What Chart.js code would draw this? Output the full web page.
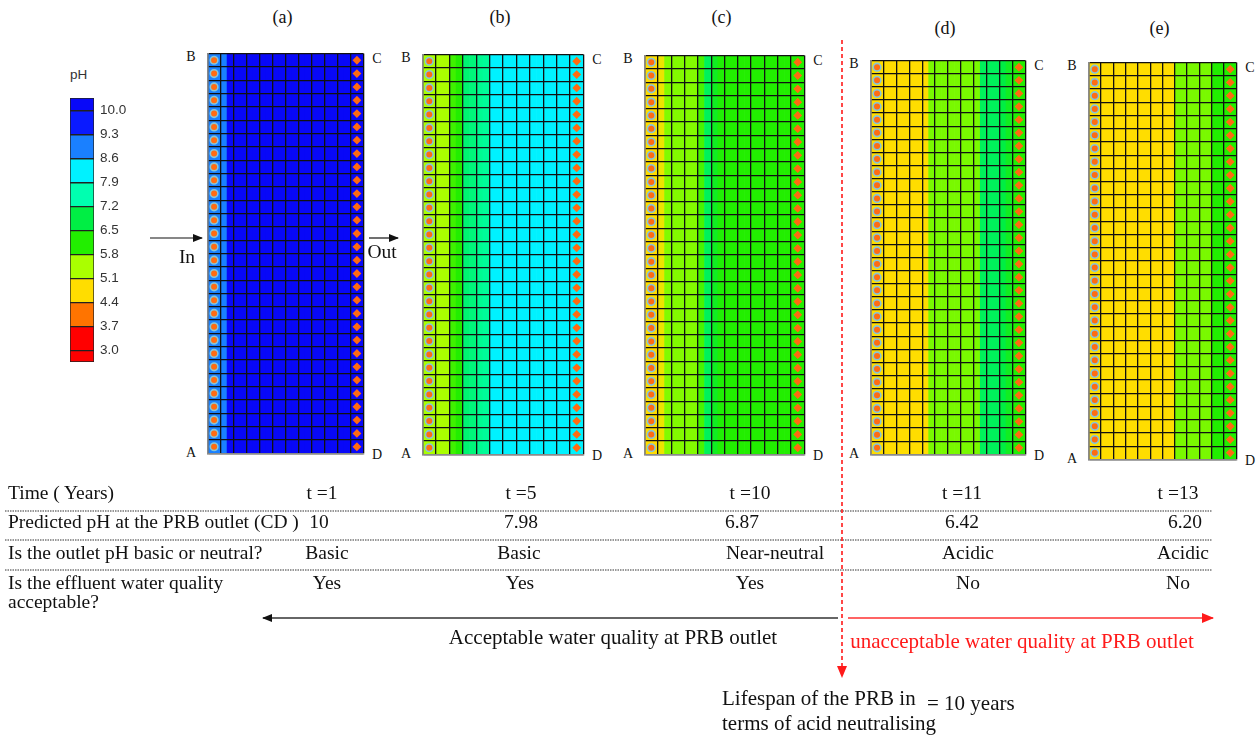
<!DOCTYPE html>
<html>
<head>
<meta charset="utf-8">
<script src="https://cdn.jsdelivr.net/npm/chart.js@4.4.1/dist/chart.umd.min.js"></script>
<style>
  html, body { margin: 0; padding: 0; background: #fff; }
  #stage { position: relative; width: 1258px; height: 736px; overflow: hidden; font-family: "Liberation Serif", "Times New Roman", serif; color: #111; }
  #stage canvas { position: absolute; }
  .t { position: absolute; white-space: nowrap; font-size: 19.5px; line-height: 1; }
  .c { transform: translate(-50%, -50%); }
  .l { transform: translate(0, -50%); }
  .corner { position: absolute; font-size: 14px; line-height: 1; transform: translate(-50%, -50%); }
  svg { position: absolute; left: 0; top: 0; }
</style>
</head>
<body>
<div id="stage"></div>
<script>
// ---- data ----
const rowCount = 30;
const colCount = 12;
const panelLabels = ['(a)', '(b)', '(c)', '(d)', '(e)'];

// pH read per half column (24 = 12 columns x 2), from inlet AB (left) to outlet CD (right)
const phA = [8.95, 8.95, 8.95, 10.2, 10.2, 10.2, 10.2, 10.2, 10.2, 10.2, 10.2, 10.2,
             10.2, 10.2, 10.2, 10.2, 10.2, 10.2, 10.2, 10.2, 10.2, 10.2, 10.2, 10.2];
const phB = [5.45, 5.45, 5.45, 5.45, 6.0, 6.15, 7.15, 7.2, 7.35, 7.4, 8.25, 8.25,
             8.25, 8.25, 8.25, 8.25, 8.25, 8.25, 8.25, 8.25, 8.25, 8.25, 8.25, 8.25];
const phC = [4.75, 4.75, 4.9, 5.65, 5.65, 5.65, 5.65, 5.65, 5.95, 7.0, 6.5, 6.2,
             6.15, 6.15, 6.15, 6.15, 6.15, 6.15, 6.15, 6.15, 6.15, 6.15, 6.15, 6.15];
const phD = [4.75, 4.75, 4.75, 4.75, 4.75, 4.75, 4.75, 4.75, 4.75, 5.7, 5.7, 5.7,
             5.7, 5.7, 5.7, 5.7, 5.7, 7.0, 7.0, 7.0, 6.85, 6.5, 6.2, 6.15];
const phE = [4.75, 4.75, 4.75, 4.75, 4.75, 4.75, 4.75, 4.75, 4.75, 4.75, 4.75, 4.75,
             4.75, 4.75, 5.7, 5.7, 5.7, 5.7, 5.7, 5.7, 6.15, 6.15, 6.15, 6.15];
const panelPH = [phA, phB, phC, phD, phE];

// colour bar
const phLevels = [3.0, 3.7, 4.4, 5.1, 5.8, 6.5, 7.2, 7.9, 8.6, 9.3, 10.0];
const phBarMin = 2.67;
const phBarMax = 10.37;
const bandColors = ['#ff0000', '#ff0000', '#ff7400', '#ffdd00', '#aaff00', '#22ee00',
                    '#00ee44', '#00ffb0', '#00f2ff', '#1a80ff', '#0a1aff', '#0808f8'];

// table
const timeLabels = ['t =1', 't =5', 't =10', 't =11', 't =13'];
const outletPH = ['10', '7.98', '6.87', '6.42', '6.20'];
const phClass = ['Basic', 'Basic', 'Near-neutral', 'Acidic', 'Acidic'];
const acceptable = ['Yes', 'Yes', 'Yes', 'No', 'No'];

// ---- layout ----
const panelBoxes = [
  [204, 50, 367, 457],
  [419, 51, 587, 458],
  [641, 52, 808, 458],
  [867, 57, 1029, 458],
  [1085, 59, 1240, 463]
];
const titleY = [17, 17, 17, 28, 28];
const stage = document.getElementById('stage');

function addText(txt, x, y, cls, extra) {
  const d = document.createElement('div');
  d.className = cls;
  d.textContent = txt;
  d.style.left = x + 'px';
  d.style.top = y + 'px';
  if (extra) Object.assign(d.style, extra);
  stage.appendChild(d);
  return d;
}

function hexToRgb(h) {
  return [parseInt(h.slice(1, 3), 16), parseInt(h.slice(3, 5), 16), parseInt(h.slice(5, 7), 16)];
}

// band centres used as colour stops
const stopVals = [phBarMin + (phLevels[0] - phBarMin) / 2];
for (let i = 0; i < phLevels.length - 1; i++) stopVals.push((phLevels[i] + phLevels[i + 1]) / 2);
stopVals.push(phLevels[phLevels.length - 1] + (phBarMax - phLevels[phLevels.length - 1]) / 2);

function phColor(v) {
  if (v <= stopVals[0]) return bandColors[0];
  if (v >= stopVals[stopVals.length - 1]) return bandColors[bandColors.length - 1];
  for (let i = 0; i < stopVals.length - 1; i++) {
    if (v <= stopVals[i + 1]) {
      const f = (v - stopVals[i]) / (stopVals[i + 1] - stopVals[i]);
      const a = hexToRgb(bandColors[i]), b = hexToRgb(bandColors[i + 1]);
      const c = a.map((x, k) => Math.round(x + (b[k] - x) * f));
      return `rgb(${c[0]},${c[1]},${c[2]})`;
    }
  }
}

function makeCanvas(left, top, w, h) {
  const cv = document.createElement('canvas');
  cv.width = w; cv.height = h;
  cv.style.left = left + 'px'; cv.style.top = top + 'px';
  cv.style.width = w + 'px'; cv.style.height = h + 'px';
  stage.appendChild(cv);
  return cv;
}

// ---- PRB panels ----
panelBoxes.forEach((box, p) => {
  const [x0, y0, x1, y1] = box;
  const pad = 2;
  const cv = makeCanvas(x0 - pad, y0 - pad, x1 - x0 + 2 * pad, y1 - y0 + 2 * pad);
  const ph = panelPH[p];
  const step = colCount / ph.length;
  const leftMarks = [], rightMarks = [];
  for (let r = 0; r < rowCount; r++) {
    leftMarks.push({ x: 0.5, y: r + 0.5 });
    rightMarks.push({ x: colCount - 0.5, y: r + 0.5 });
  }
  new Chart(cv, {
    type: 'bar',
    data: {
      datasets: [
        {
          type: 'scatter',
          data: leftMarks,
          pointStyle: 'circle',
          pointRadius: 3.8,
          backgroundColor: '#ff6c12',
          borderColor: '#86c6d8',
          borderWidth: 1.6,
          order: 0
        },
        {
          type: 'scatter',
          data: rightMarks,
          pointStyle: 'rectRot',
          pointRadius: 4.4,
          backgroundColor: '#ff6a10',
          borderWidth: 0,
          order: 0
        },
        {
          type: 'bar',
          data: ph.map((v, i) => ({ x: (i + 0.5) * step, y: rowCount })),
          backgroundColor: ph.map(phColor),
          borderWidth: 0,
          barPercentage: 1,
          categoryPercentage: 1,
          order: 5
        }
      ]
    },
    options: {
      responsive: false,
      animation: false,
      events: [],
      layout: { padding: pad },
      plugins: { legend: { display: false }, tooltip: { enabled: false } },
      scales: {
        x: {
          type: 'linear', min: 0, max: colCount, offset: false,
          grid: { color: '#111', lineWidth: 1.3, drawTicks: false, offset: false, z: 1 },
          border: { display: true, color: '#8a8a8a', width: 1.6, z: 2 },
          ticks: { display: false, stepSize: 1, maxTicksLimit: 100, autoSkip: false }
        },
        y: {
          type: 'linear', min: 0, max: rowCount,
          grid: { color: '#111', lineWidth: 1.3, drawTicks: false, z: 1 },
          border: { display: true, color: '#8a8a8a', width: 1.6, z: 2 },
          ticks: { display: false, stepSize: 1, maxTicksLimit: 100, autoSkip: false }
        }
      }
    }
  });

  addText(panelLabels[p], (x0 + x1) / 2 - 3, titleY[p], 't c', { fontSize: '18px' });
  addText('B', x0 - 13, y0 + 7, 'corner');
  addText('C', x1 + 10, y0 + 9, 'corner');
  addText('A', x0 - 13, y1 - 4, 'corner');
  addText('D', x1 + 10, y1 - 2, 'corner');
});

// ---- pH colour bar ----
const cbCanvas = makeCanvas(68, 84, 62, 292);
new Chart(cbCanvas, {
  type: 'bar',
  data: {
    labels: ['pH'],
    datasets: bandColors.map((col, i) => ({
      data: [[i === 0 ? phBarMin : phLevels[i - 1], i === phLevels.length ? phBarMax : phLevels[i]]],
      backgroundColor: col,
      borderColor: '#222',
      borderWidth: 1,
      borderSkipped: false,
      barPercentage: 1,
      categoryPercentage: 1,
      grouped: false
    }))
  },
  options: {
    responsive: false,
    animation: false,
    events: [],
    layout: { padding: { left: 2, top: 6.5, bottom: 5.5, right: 0 } },
    plugins: { legend: { display: false }, tooltip: { enabled: false } },
    scales: {
      x: { display: false },
      y: {
        position: 'right',
        min: phBarMin, max: phBarMax,
        afterBuildTicks: (axis) => { axis.ticks = phLevels.map(v => ({ value: v })); },
        afterFit: (axis) => { axis.width = 36; },
        grid: { display: false, drawTicks: false },
        border: { display: false },
        ticks: {
          padding: 6,
          color: '#333',
          font: { family: 'Liberation Sans', size: 13.5 },
          callback: (v) => Number(v).toFixed(1)
        }
      }
    }
  }
});
addText('pH', 70, 75, 't l', { fontFamily: 'Liberation Sans', fontSize: '13.5px', color: '#333' });

// ---- arrows, dashed lines ----
const svgNS = 'http://www.w3.org/2000/svg';
const svg = document.createElementNS(svgNS, 'svg');
svg.setAttribute('width', 1258);
svg.setAttribute('height', 736);
svg.innerHTML = `
  <defs>
    <marker id="ab" markerWidth="10" markerHeight="8" refX="9" refY="4" orient="auto" markerUnits="userSpaceOnUse">
      <path d="M0,0 L10,4 L0,8 Z" fill="#111"/>
    </marker>
    <marker id="ar" markerWidth="12" markerHeight="10" refX="11" refY="5" orient="auto" markerUnits="userSpaceOnUse">
      <path d="M0,0 L12,5 L0,10 Z" fill="#ff1a1a"/>
    </marker>
  </defs>
  <line x1="150" y1="238" x2="202" y2="238" stroke="#111" stroke-width="1.2" marker-end="url(#ab)"/>
  <line x1="369" y1="238" x2="398" y2="238" stroke="#111" stroke-width="1.2" marker-end="url(#ab)"/>
  <line x1="5" y1="511" x2="1212" y2="511" stroke="#777" stroke-width="1.3" stroke-dasharray="1.5,1"/>
  <line x1="5" y1="540" x2="1212" y2="540" stroke="#777" stroke-width="1.3" stroke-dasharray="1.5,1"/>
  <line x1="5" y1="570" x2="1212" y2="570" stroke="#777" stroke-width="1.3" stroke-dasharray="1.5,1"/>
  <line x1="838" y1="618" x2="263" y2="618" stroke="#333" stroke-width="1.4" marker-end="url(#ab)"/>
  <line x1="848" y1="618" x2="1213" y2="618" stroke="#ff3030" stroke-width="1.4" marker-end="url(#ar)"/>
  <line x1="842" y1="40" x2="842" y2="677" stroke="#ff1a1a" stroke-width="1.6" stroke-dasharray="4,3" marker-end="url(#ar)"/>
`;
stage.appendChild(svg);

addText('In', 187, 257, 't c');
addText('Out', 382, 252, 't c');

// ---- table ----
const rowY = [493, 522, 553, 583];
addText('Time ( Years)', 8, rowY[0], 't l');
addText('Predicted pH at the PRB outlet (CD )', 8, rowY[1], 't l');
addText('Is the outlet pH basic or neutral?', 8, rowY[2], 't l');
addText('Is the effluent water quality', 8, rowY[3], 't l');
addText('acceptable?', 8, 602, 't l');

const xTime = [322, 521, 750, 962, 1178];
const xPH = [319, 521, 742, 962, 1185];
const xClass = [327, 519, 775, 968, 1183];
const xAcc = [327, 520, 750, 968, 1178];
timeLabels.forEach((s, i) => addText(s, xTime[i], rowY[0], 't c'));
outletPH.forEach((s, i) => addText(s, xPH[i], rowY[1], 't c'));
phClass.forEach((s, i) => addText(s, xClass[i], rowY[2], 't c'));
acceptable.forEach((s, i) => addText(s, xAcc[i], rowY[3], 't c'));

addText('Acceptable water quality at PRB outlet', 613, 637, 't c', { fontSize: '21px' });
addText('unacceptable water quality at PRB outlet', 1022, 641, 't c', { fontSize: '21px', color: '#ff1a1a' });
addText('Lifespan of the PRB in', 722, 698, 't l', { fontSize: '21px' });
addText('terms of acid neutralising', 722, 723, 't l', { fontSize: '21px' });
addText('= 10 years', 927, 703, 't l', { fontSize: '21px' });
</script>
</body>
</html>
